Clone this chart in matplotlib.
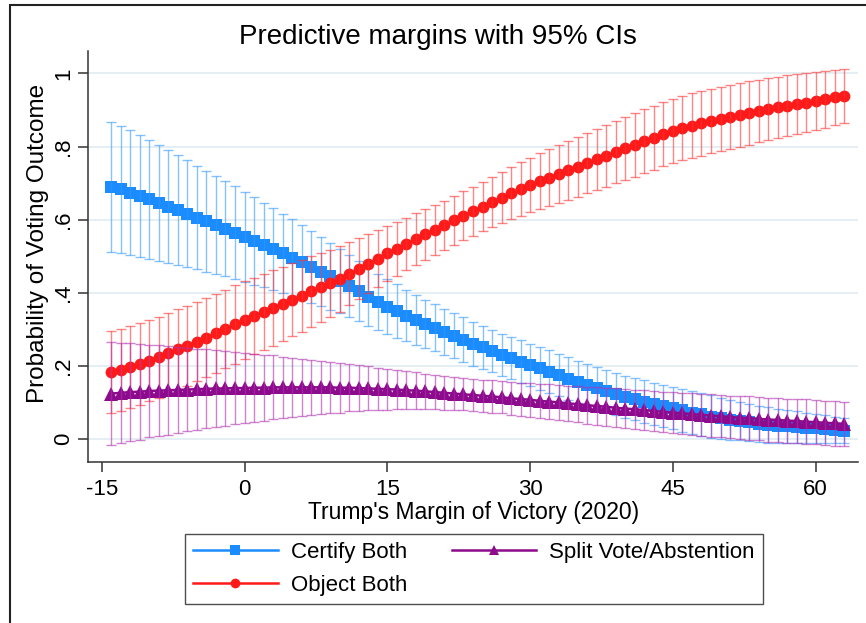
import matplotlib
matplotlib.use("Agg")
import matplotlib.pyplot as plt
from matplotlib.lines import Line2D
from matplotlib.patches import Rectangle

plt.rcParams['font.family'] = ['Liberation Sans', 'DejaVu Sans']
plt.rcParams['axes.unicode_minus'] = False

# Trump's 2020 margin of victory, one point per percentage point
margin = list(range(-14, 64))
xticks = [-15, 0, 15, 30, 45, 60]
yticks = [0, 0.2, 0.4, 0.6, 0.8, 1.0]
ytick_labels = ['0', '.2', '.4', '.6', '.8', '1']
names = ['Certify Both', 'Object Both', 'Split Vote/Abstention']

certify = [.690, .683, .674, .665, .656, .646, .636, .626, .616, .606,
           .596, .586, .575, .564, .553, .542, .531, .520, .508, .496,
           .484, .471, .458, .445, .432, .418, .404, .390, .376, .362,
           .350, .338, .327, .316, .305, .294, .283, .272, .261, .251,
           .241, .231, .222, .212, .203, .194, .185, .176, .166, .157,
           .149, .140, .132, .124, .116, .110, .103, .097, .091, .085,
           .079, .073, .068, .062, .057, .053, .049, .046, .042, .039,
           .037, .035, .033, .031, .030, .028, .026, .024]
certify_ci = [.178, .174, .170, .166, .162, .158, .154, .150, .146, .142,
              .138, .134, .130, .127, .124, .120, .116, .112, .108, .105,
              .101, .098, .094, .091, .088, .085, .082, .080, .077, .075,
              .073, .070, .068, .066, .064, .063, .062, .061, .060, .059,
              .058, .058, .058, .058, .058, .058, .058, .058, .058, .058,
              .058, .058, .058, .058, .058, .058, .058, .058, .058, .058,
              .058, .058, .058, .058, .055, .054, .052, .051, .049, .048,
              .046, .045, .043, .042, .040, .038, .036, .034]

obj = [.183, .189, .197, .206, .215, .224, .235, .246, .256, .267,
       .278, .290, .302, .314, .326, .337, .348, .359, .370, .381,
       .392, .404, .415, .426, .438, .452, .466, .480, .494, .508,
       .521, .534, .547, .560, .572, .585, .598, .611, .623, .636,
       .648, .660, .672, .684, .695, .705, .715, .725, .735, .745,
       .755, .765, .775, .785, .795, .805, .815, .824, .834, .843,
       .850, .857, .863, .869, .875, .881, .886, .892, .897, .902,
       .907, .912, .916, .920, .925, .929, .934, .938]
obj_ci = [.112, .112, .112, .111, .111, .111, .110, .110, .109, .109,
          .108, .108, .107, .107, .106, .105, .104, .103, .101, .100,
          .098, .096, .094, .091, .089, .086, .083, .081, .078, .076,
          .074, .072, .070, .069, .068, .067, .067, .067, .067, .067,
          .068, .070, .071, .073, .074, .076, .078, .079, .081, .082,
          .083, .084, .085, .086, .086, .087, .087, .088, .088, .088,
          .088, .088, .088, .088, .088, .088, .087, .087, .086, .085,
          .084, .083, .082, .080, .079, .078, .076, .075]

split = [.125, .127, .129, .130, .132, .133, .134, .135, .136, .137,
         .138, .139, .139, .140, .140, .141, .141, .142, .142, .142,
         .142, .142, .142, .142, .141, .141, .140, .139, .138, .137,
         .136, .134, .133, .131, .129, .127, .125, .123, .121, .119,
         .117, .115, .112, .110, .108, .105, .103, .101, .098, .096,
         .093, .091, .089, .086, .084, .082, .080, .077, .075, .073,
         .071, .069, .067, .065, .063, .061, .059, .058, .056, .054,
         .053, .051, .050, .048, .047, .045, .044, .042]
split_ci = [.140, .137, .134, .131, .127, .124, .121, .117, .114, .111,
            .108, .105, .102, .099, .096, .093, .090, .087, .084, .081,
            .078, .075, .073, .070, .068, .065, .063, .060, .058, .056,
            .054, .052, .050, .048, .047, .046, .045, .044, .044, .044,
            .044, .044, .045, .045, .046, .047, .048, .048, .049, .050,
            .051, .051, .052, .053, .053, .054, .054, .055, .055, .056,
            .056, .057, .057, .058, .058, .058, .059, .059, .059, .060,
            .060, .060, .060, .061, .061, .061, .061, .061]

series = [certify, obj, split]
errors = [certify_ci, obj_ci, split_ci]
colors = ['#1a8cff', '#ff1a1a', '#8c0a8c']
ci_colors = ['#3399ff', '#ff3333', '#b030b0']
markers = ['s', 'o', '^']
msizes = [8.5, 8.5, 9.5]

fig = plt.figure(figsize=(8.66, 6.23), dpi=100)
ax = fig.add_axes([88/866, 1 - 462/623, 770/866, 411/623])

# each outcome: connected markers, then its CI caps drawn over them
for i, (vals, err) in enumerate(zip(series, errors)):
    ax.plot(margin, vals, color=colors[i], marker=markers[i],
            markersize=msizes[i], lw=1.8, markeredgewidth=0, zorder=3 + 2*i)
    ax.errorbar(margin, vals, yerr=err, fmt='none', ecolor=ci_colors[i],
                alpha=0.6, elinewidth=1.0, capsize=3.3, capthick=1.0,
                zorder=4 + 2*i)

ax.set_xlim(-16.44, 64.44)
ax.set_ylim(-0.062, 1.061)
ax.set_xticks(xticks)
ax.set_yticks(yticks)
ax.set_yticklabels(ytick_labels, rotation=90, va='center')
ax.tick_params(axis='both', labelsize=16, length=7, width=1.1, color='#333333')
ax.tick_params(axis='y', pad=3)
ax.tick_params(axis='x', pad=5)
ax.grid(axis='y', color='#e3edf1', lw=1.3)
ax.set_axisbelow(True)
for side in ['top', 'right']:
    ax.spines[side].set_visible(False)
for side in ['left', 'bottom']:
    ax.spines[side].set_color('#333333')
    ax.spines[side].set_linewidth(1.1)

fig.text(438/866, 1 - 37/623, 'Predictive margins with 95% CIs',
         ha='center', va='center', fontsize=20)
fig.text(474/866, 1 - 512/623, "Trump's Margin of Victory (2020)",
         ha='center', va='center', fontsize=16.5)
fig.text(38/866, 1 - 243/623, 'Probability of Voting Outcome',
         ha='center', va='center', rotation=90, fontsize=17.5)

handles = [Line2D([], [], color=c, marker=m, markersize=7, lw=1.8,
                  markeredgewidth=0) for c, m in zip(colors, markers)]
leg = fig.legend(handles, names, ncol=2, loc='center',
                 bbox_to_anchor=(474/866, 1 - 569/623), fontsize=16,
                 frameon=True, fancybox=False, edgecolor='#222222',
                 handlelength=3.8, handletextpad=0.6, columnspacing=2.0,
                 labelspacing=0.55, borderpad=0.35, borderaxespad=0.0)
leg.get_frame().set_linewidth(1.0)

# outer frame, open on the right and bottom
fig.add_artist(Rectangle((10/866, -0.2), 2, 1.2 - 5/623,
                         transform=fig.transFigure, fill=False,
                         lw=1.5, ec='#222222'))

fig.savefig('out.png', dpi=100)
